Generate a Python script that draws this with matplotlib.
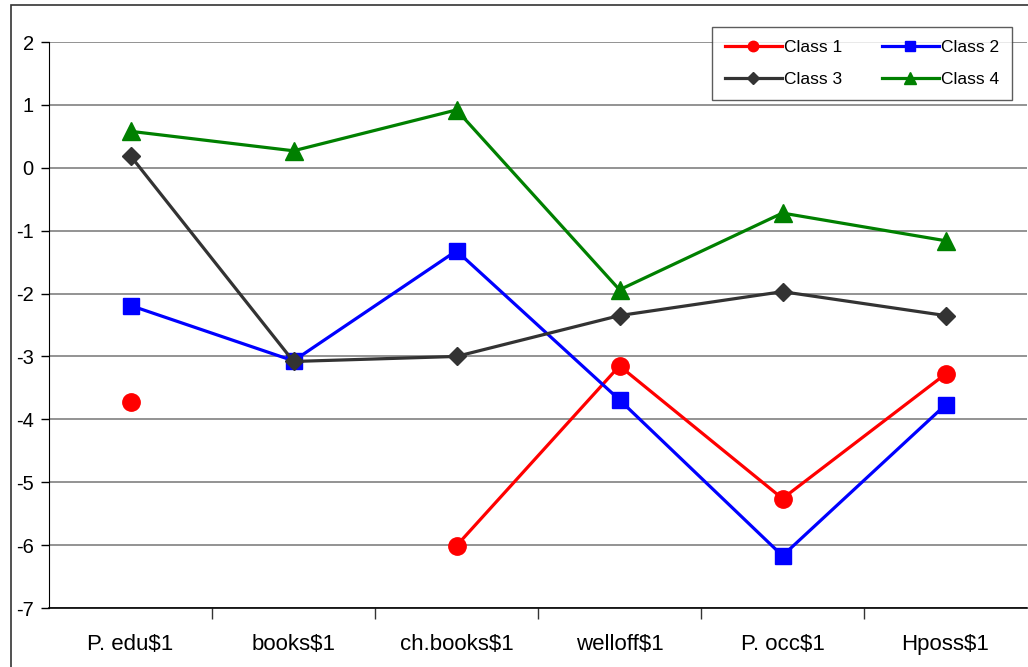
import matplotlib.pyplot as plt
import numpy as np
from matplotlib.patches import Rectangle

plt.rcParams['font.family'] = ['Liberation Sans', 'DejaVu Sans']
plt.rcParams['axes.unicode_minus'] = False

categories = ["P. edu$1", "books$1", "ch.books$1", "welloff$1", "P. occ$1", "Hposs$1"]
class1 = [-3.72, np.nan, -6.01, -3.15, -5.26, -3.28]
class2 = [-2.19, -3.07, -1.32, -3.69, -6.17, -3.77]
class3 = [0.19, -3.08, -3.00, -2.35, -1.97, -2.35]
class4 = [0.58, 0.27, 0.92, -1.94, -0.72, -1.16]

fig = plt.figure(figsize=(10.28, 6.67), dpi=100)
ax = fig.add_axes([49 / 1028, 1 - 608 / 667, 978 / 1028, 566 / 667])

# outer chart frame
fig.patches.append(Rectangle((11 / 1028, -0.05), 1.1, 1 - 5 / 667 + 0.05,
                             transform=fig.transFigure, fill=False,
                             edgecolor='#333333', linewidth=1.2))

x = np.arange(len(categories))
series = [
    ("Class 1", class1, 'red', 'o', 12.5),
    ("Class 2", class2, 'blue', 's', 11.5),
    ("Class 3", class3, '#333333', 'D', 9.5),
    ("Class 4", class4, 'green', '^', 13.5),
]
lines = {}
for name, vals, col, mk, ms in series:
    ln, = ax.plot(x, vals, color=col, marker=mk, markersize=ms, linewidth=2.3,
                  label=name, zorder=3)
    lines[name] = ln

ax.set_xlim(-0.5, len(categories) - 0.5)
ax.set_ylim(-7, 2)
ax.set_yticks(range(-7, 3))
ax.set_xticks(x)
ax.set_xticklabels(categories, fontsize=16)
ax.set_xticks(np.arange(0.5, len(categories) - 0.5), minor=True)
ax.tick_params(axis='x', which='major', length=0, pad=19)
ax.tick_params(axis='x', which='minor', length=8, width=1, color='#333333', direction='out')
ax.tick_params(axis='y', labelsize=14.5, length=6, width=1, direction='out', pad=5)

ax.grid(axis='y', color='#808080', linewidth=1.2)
ax.set_axisbelow(True)
ax.spines['top'].set_visible(False)
ax.spines['right'].set_visible(False)
ax.spines['left'].set_color('black')
ax.spines['bottom'].set_color('black')
ax.spines['bottom'].set_linewidth(1.2)

# legend rows: Class 1 / Class 2, then Class 3 / Class 4
order = ["Class 1", "Class 3", "Class 2", "Class 4"]
leg = ax.legend([lines[n] for n in order], order, ncol=2, loc='upper right',
                bbox_to_anchor=((1012 - 49) / 978, (608 - 27) / 566), borderaxespad=0,
                fontsize=12.5, frameon=True, fancybox=False, edgecolor='#333333',
                markerscale=0.6, handlelength=3.3, columnspacing=2.3,
                borderpad=0.75, labelspacing=0.95, handletextpad=0.1)
leg.get_frame().set_linewidth(1)

fig.savefig('out.png', dpi=100)
